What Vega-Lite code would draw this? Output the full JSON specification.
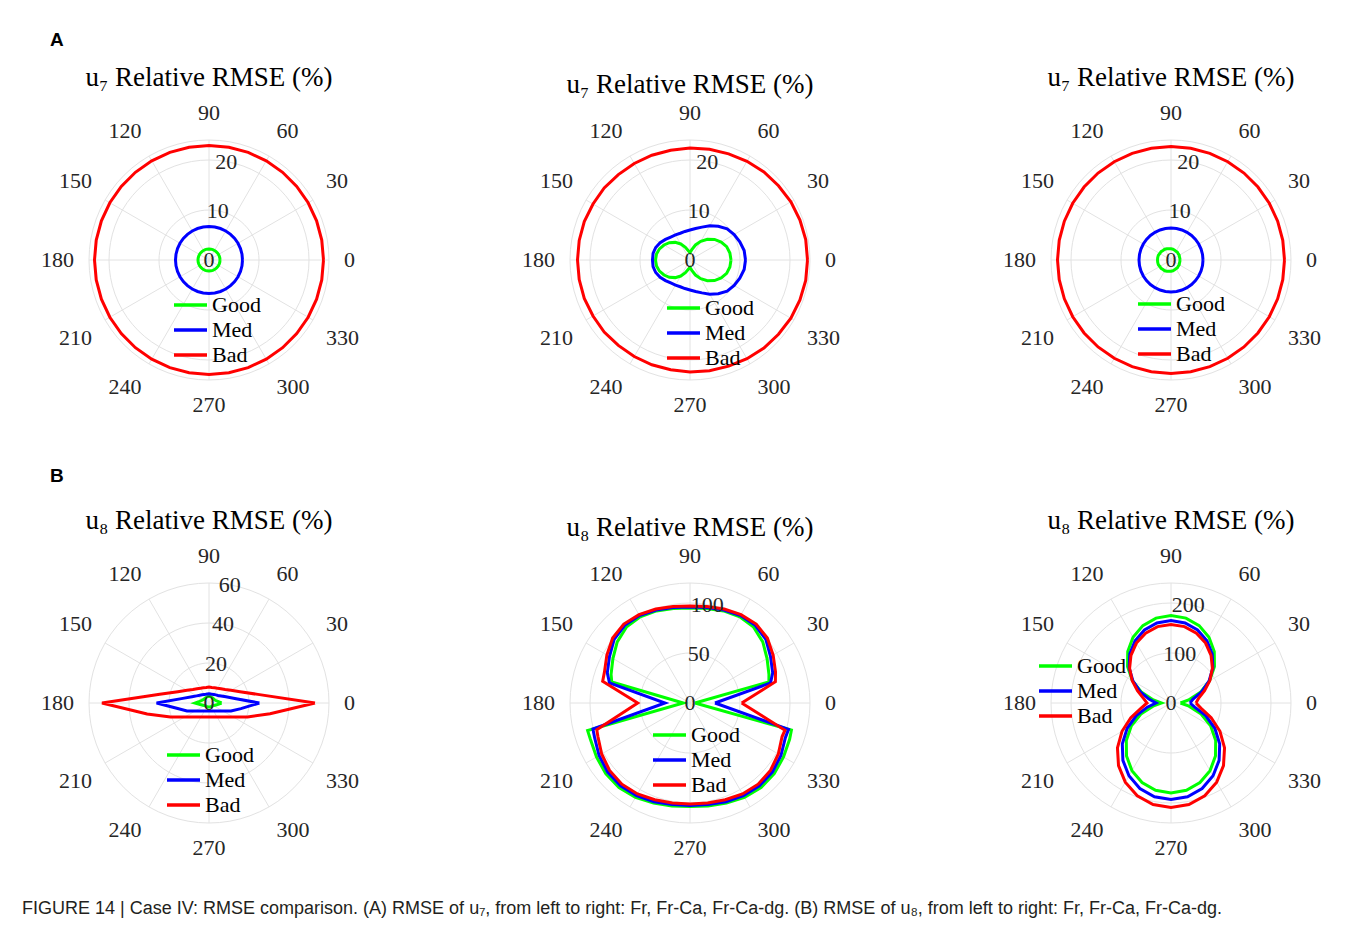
{
"$schema": "https://vega.github.io/schema/vega-lite/v6.json",
"background": "white",
"padding": {"left": 22, "top": 31, "right": 5, "bottom": 5},
"bounds": "flush",
"spacing": 443,
"title": {"text": "FIGURE 14 | Case IV: RMSE comparison. (A) RMSE of u₇, from left to right: Fr, Fr-Ca, Fr-Ca-dg. (B) RMSE of u₈, from left to right: Fr, Fr-Ca, Fr-Ca-dg.", "orient": "bottom", "anchor": "start", "frame": "group", "dx": -67, "offset": 41, "font": "Liberation Sans", "fontSize": 18, "fontWeight": "normal", "color": "#231f20"},
"datasets": {
"spokes": [{"a":0},{"a":30},{"a":60},{"a":90},{"a":120},{"a":150}],
"angles": [{"a":0},{"a":30},{"a":60},{"a":90},{"a":120},{"a":150},{"a":180},{"a":210},{"a":240},{"a":270},{"a":300},{"a":330}],
"ring": [{"a":0},{"a":5},{"a":10},{"a":15},{"a":20},{"a":25},{"a":30},{"a":35},{"a":40},{"a":45},{"a":50},{"a":55},{"a":60},{"a":65},{"a":70},{"a":75},{"a":80},{"a":85},{"a":90},{"a":95},{"a":100},{"a":105},{"a":110},{"a":115},{"a":120},{"a":125},{"a":130},{"a":135},{"a":140},{"a":145},{"a":150},{"a":155},{"a":160},{"a":165},{"a":170},{"a":175},{"a":180},{"a":185},{"a":190},{"a":195},{"a":200},{"a":205},{"a":210},{"a":215},{"a":220},{"a":225},{"a":230},{"a":235},{"a":240},{"a":245},{"a":250},{"a":255},{"a":260},{"a":265},{"a":270},{"a":275},{"a":280},{"a":285},{"a":290},{"a":295},{"a":300},{"a":305},{"a":310},{"a":315},{"a":320},{"a":325},{"a":330},{"a":335},{"a":340},{"a":345},{"a":350},{"a":355},{"a":360}],
"curves": [
{"p":"A1","s":"Good","t":0,"r":2.2},{"p":"A1","s":"Good","t":10,"r":2.2},{"p":"A1","s":"Good","t":20,"r":2.2},{"p":"A1","s":"Good","t":30,"r":2.2},{"p":"A1","s":"Good","t":40,"r":2.2},{"p":"A1","s":"Good","t":50,"r":2.2},{"p":"A1","s":"Good","t":60,"r":2.2},{"p":"A1","s":"Good","t":70,"r":2.2},{"p":"A1","s":"Good","t":80,"r":2.2},{"p":"A1","s":"Good","t":90,"r":2.2},{"p":"A1","s":"Good","t":100,"r":2.2},{"p":"A1","s":"Good","t":110,"r":2.2},{"p":"A1","s":"Good","t":120,"r":2.2},{"p":"A1","s":"Good","t":130,"r":2.2},{"p":"A1","s":"Good","t":140,"r":2.2},{"p":"A1","s":"Good","t":150,"r":2.2},{"p":"A1","s":"Good","t":160,"r":2.2},{"p":"A1","s":"Good","t":170,"r":2.2},{"p":"A1","s":"Good","t":180,"r":2.2},{"p":"A1","s":"Good","t":190,"r":2.2},{"p":"A1","s":"Good","t":200,"r":2.2},{"p":"A1","s":"Good","t":210,"r":2.2},{"p":"A1","s":"Good","t":220,"r":2.2},{"p":"A1","s":"Good","t":230,"r":2.2},{"p":"A1","s":"Good","t":240,"r":2.2},{"p":"A1","s":"Good","t":250,"r":2.2},{"p":"A1","s":"Good","t":260,"r":2.2},{"p":"A1","s":"Good","t":270,"r":2.2},{"p":"A1","s":"Good","t":280,"r":2.2},{"p":"A1","s":"Good","t":290,"r":2.2},{"p":"A1","s":"Good","t":300,"r":2.2},{"p":"A1","s":"Good","t":310,"r":2.2},{"p":"A1","s":"Good","t":320,"r":2.2},{"p":"A1","s":"Good","t":330,"r":2.2},{"p":"A1","s":"Good","t":340,"r":2.2},{"p":"A1","s":"Good","t":350,"r":2.2},{"p":"A1","s":"Good","t":360,"r":2.2},
{"p":"A1","s":"Med","t":0,"r":6.7},{"p":"A1","s":"Med","t":10,"r":6.7},{"p":"A1","s":"Med","t":20,"r":6.7},{"p":"A1","s":"Med","t":30,"r":6.7},{"p":"A1","s":"Med","t":40,"r":6.7},{"p":"A1","s":"Med","t":50,"r":6.7},{"p":"A1","s":"Med","t":60,"r":6.7},{"p":"A1","s":"Med","t":70,"r":6.7},{"p":"A1","s":"Med","t":80,"r":6.7},{"p":"A1","s":"Med","t":90,"r":6.7},{"p":"A1","s":"Med","t":100,"r":6.7},{"p":"A1","s":"Med","t":110,"r":6.7},{"p":"A1","s":"Med","t":120,"r":6.7},{"p":"A1","s":"Med","t":130,"r":6.7},{"p":"A1","s":"Med","t":140,"r":6.7},{"p":"A1","s":"Med","t":150,"r":6.7},{"p":"A1","s":"Med","t":160,"r":6.7},{"p":"A1","s":"Med","t":170,"r":6.7},{"p":"A1","s":"Med","t":180,"r":6.7},{"p":"A1","s":"Med","t":190,"r":6.7},{"p":"A1","s":"Med","t":200,"r":6.7},{"p":"A1","s":"Med","t":210,"r":6.7},{"p":"A1","s":"Med","t":220,"r":6.7},{"p":"A1","s":"Med","t":230,"r":6.7},{"p":"A1","s":"Med","t":240,"r":6.7},{"p":"A1","s":"Med","t":250,"r":6.7},{"p":"A1","s":"Med","t":260,"r":6.7},{"p":"A1","s":"Med","t":270,"r":6.7},{"p":"A1","s":"Med","t":280,"r":6.7},{"p":"A1","s":"Med","t":290,"r":6.7},{"p":"A1","s":"Med","t":300,"r":6.7},{"p":"A1","s":"Med","t":310,"r":6.7},{"p":"A1","s":"Med","t":320,"r":6.7},{"p":"A1","s":"Med","t":330,"r":6.7},{"p":"A1","s":"Med","t":340,"r":6.7},{"p":"A1","s":"Med","t":350,"r":6.7},{"p":"A1","s":"Med","t":360,"r":6.7},
{"p":"A1","s":"Bad","t":0,"r":22.9},{"p":"A1","s":"Bad","t":10,"r":22.9},{"p":"A1","s":"Bad","t":20,"r":22.9},{"p":"A1","s":"Bad","t":30,"r":22.9},{"p":"A1","s":"Bad","t":40,"r":22.9},{"p":"A1","s":"Bad","t":50,"r":22.9},{"p":"A1","s":"Bad","t":60,"r":22.9},{"p":"A1","s":"Bad","t":70,"r":22.9},{"p":"A1","s":"Bad","t":80,"r":22.9},{"p":"A1","s":"Bad","t":90,"r":22.9},{"p":"A1","s":"Bad","t":100,"r":22.9},{"p":"A1","s":"Bad","t":110,"r":22.9},{"p":"A1","s":"Bad","t":120,"r":22.9},{"p":"A1","s":"Bad","t":130,"r":22.9},{"p":"A1","s":"Bad","t":140,"r":22.9},{"p":"A1","s":"Bad","t":150,"r":22.9},{"p":"A1","s":"Bad","t":160,"r":22.9},{"p":"A1","s":"Bad","t":170,"r":22.9},{"p":"A1","s":"Bad","t":180,"r":22.9},{"p":"A1","s":"Bad","t":190,"r":22.9},{"p":"A1","s":"Bad","t":200,"r":22.9},{"p":"A1","s":"Bad","t":210,"r":22.9},{"p":"A1","s":"Bad","t":220,"r":22.9},{"p":"A1","s":"Bad","t":230,"r":22.9},{"p":"A1","s":"Bad","t":240,"r":22.9},{"p":"A1","s":"Bad","t":250,"r":22.9},{"p":"A1","s":"Bad","t":260,"r":22.9},{"p":"A1","s":"Bad","t":270,"r":22.9},{"p":"A1","s":"Bad","t":280,"r":22.9},{"p":"A1","s":"Bad","t":290,"r":22.9},{"p":"A1","s":"Bad","t":300,"r":22.9},{"p":"A1","s":"Bad","t":310,"r":22.9},{"p":"A1","s":"Bad","t":320,"r":22.9},{"p":"A1","s":"Bad","t":330,"r":22.9},{"p":"A1","s":"Bad","t":340,"r":22.9},{"p":"A1","s":"Bad","t":350,"r":22.9},{"p":"A1","s":"Bad","t":360,"r":22.9},
{"p":"A2","s":"Good","t":0,"r":8.2},{"p":"A2","s":"Good","t":10,"r":8.1},{"p":"A2","s":"Good","t":20,"r":7.8},{"p":"A2","s":"Good","t":30,"r":7.2},{"p":"A2","s":"Good","t":40,"r":6.4},{"p":"A2","s":"Good","t":50,"r":5.4},{"p":"A2","s":"Good","t":60,"r":4.3},{"p":"A2","s":"Good","t":70,"r":3.2},{"p":"A2","s":"Good","t":80,"r":2.1},{"p":"A2","s":"Good","t":90,"r":1.5},{"p":"A2","s":"Good","t":100,"r":1.9},{"p":"A2","s":"Good","t":110,"r":2.7},{"p":"A2","s":"Good","t":120,"r":3.7},{"p":"A2","s":"Good","t":130,"r":4.6},{"p":"A2","s":"Good","t":140,"r":5.4},{"p":"A2","s":"Good","t":150,"r":6.0},{"p":"A2","s":"Good","t":160,"r":6.5},{"p":"A2","s":"Good","t":170,"r":6.8},{"p":"A2","s":"Good","t":180,"r":6.9},{"p":"A2","s":"Good","t":190,"r":6.8},{"p":"A2","s":"Good","t":200,"r":6.5},{"p":"A2","s":"Good","t":210,"r":6.0},{"p":"A2","s":"Good","t":220,"r":5.4},{"p":"A2","s":"Good","t":230,"r":4.6},{"p":"A2","s":"Good","t":240,"r":3.7},{"p":"A2","s":"Good","t":250,"r":2.7},{"p":"A2","s":"Good","t":260,"r":1.9},{"p":"A2","s":"Good","t":270,"r":1.5},{"p":"A2","s":"Good","t":280,"r":2.1},{"p":"A2","s":"Good","t":290,"r":3.2},{"p":"A2","s":"Good","t":300,"r":4.3},{"p":"A2","s":"Good","t":310,"r":5.4},{"p":"A2","s":"Good","t":320,"r":6.4},{"p":"A2","s":"Good","t":330,"r":7.2},{"p":"A2","s":"Good","t":340,"r":7.8},{"p":"A2","s":"Good","t":350,"r":8.1},{"p":"A2","s":"Good","t":360,"r":8.2},
{"p":"A2","s":"Med","t":0,"r":11.1},{"p":"A2","s":"Med","t":10,"r":11.0},{"p":"A2","s":"Med","t":20,"r":10.6},{"p":"A2","s":"Med","t":30,"r":10.2},{"p":"A2","s":"Med","t":40,"r":9.7},{"p":"A2","s":"Med","t":50,"r":8.8},{"p":"A2","s":"Med","t":60,"r":7.9},{"p":"A2","s":"Med","t":70,"r":7.0},{"p":"A2","s":"Med","t":80,"r":6.4},{"p":"A2","s":"Med","t":90,"r":6.0},{"p":"A2","s":"Med","t":100,"r":5.8},{"p":"A2","s":"Med","t":110,"r":5.7},{"p":"A2","s":"Med","t":120,"r":5.8},{"p":"A2","s":"Med","t":130,"r":6.0},{"p":"A2","s":"Med","t":140,"r":6.4},{"p":"A2","s":"Med","t":150,"r":6.9},{"p":"A2","s":"Med","t":160,"r":7.3},{"p":"A2","s":"Med","t":170,"r":7.5},{"p":"A2","s":"Med","t":180,"r":7.5},{"p":"A2","s":"Med","t":190,"r":7.5},{"p":"A2","s":"Med","t":200,"r":7.3},{"p":"A2","s":"Med","t":210,"r":6.9},{"p":"A2","s":"Med","t":220,"r":6.4},{"p":"A2","s":"Med","t":230,"r":6.0},{"p":"A2","s":"Med","t":240,"r":5.8},{"p":"A2","s":"Med","t":250,"r":5.7},{"p":"A2","s":"Med","t":260,"r":5.8},{"p":"A2","s":"Med","t":270,"r":6.0},{"p":"A2","s":"Med","t":280,"r":6.4},{"p":"A2","s":"Med","t":290,"r":7.0},{"p":"A2","s":"Med","t":300,"r":7.9},{"p":"A2","s":"Med","t":310,"r":8.8},{"p":"A2","s":"Med","t":320,"r":9.7},{"p":"A2","s":"Med","t":330,"r":10.2},{"p":"A2","s":"Med","t":340,"r":10.6},{"p":"A2","s":"Med","t":350,"r":11.0},{"p":"A2","s":"Med","t":360,"r":11.1},
{"p":"A2","s":"Bad","t":0,"r":23.5},{"p":"A2","s":"Bad","t":10,"r":23.5},{"p":"A2","s":"Bad","t":20,"r":23.4},{"p":"A2","s":"Bad","t":30,"r":23.3},{"p":"A2","s":"Bad","t":40,"r":23.1},{"p":"A2","s":"Bad","t":50,"r":23.0},{"p":"A2","s":"Bad","t":60,"r":22.8},{"p":"A2","s":"Bad","t":70,"r":22.6},{"p":"A2","s":"Bad","t":80,"r":22.5},{"p":"A2","s":"Bad","t":90,"r":22.4},{"p":"A2","s":"Bad","t":100,"r":22.3},{"p":"A2","s":"Bad","t":110,"r":22.3},{"p":"A2","s":"Bad","t":120,"r":22.3},{"p":"A2","s":"Bad","t":130,"r":22.3},{"p":"A2","s":"Bad","t":140,"r":22.4},{"p":"A2","s":"Bad","t":150,"r":22.4},{"p":"A2","s":"Bad","t":160,"r":22.5},{"p":"A2","s":"Bad","t":170,"r":22.5},{"p":"A2","s":"Bad","t":180,"r":22.5},{"p":"A2","s":"Bad","t":190,"r":22.5},{"p":"A2","s":"Bad","t":200,"r":22.5},{"p":"A2","s":"Bad","t":210,"r":22.4},{"p":"A2","s":"Bad","t":220,"r":22.4},{"p":"A2","s":"Bad","t":230,"r":22.3},{"p":"A2","s":"Bad","t":240,"r":22.3},{"p":"A2","s":"Bad","t":250,"r":22.3},{"p":"A2","s":"Bad","t":260,"r":22.3},{"p":"A2","s":"Bad","t":270,"r":22.4},{"p":"A2","s":"Bad","t":280,"r":22.5},{"p":"A2","s":"Bad","t":290,"r":22.6},{"p":"A2","s":"Bad","t":300,"r":22.8},{"p":"A2","s":"Bad","t":310,"r":23.0},{"p":"A2","s":"Bad","t":320,"r":23.1},{"p":"A2","s":"Bad","t":330,"r":23.3},{"p":"A2","s":"Bad","t":340,"r":23.4},{"p":"A2","s":"Bad","t":350,"r":23.5},{"p":"A2","s":"Bad","t":360,"r":23.5},
{"p":"A3","s":"Good","t":0,"r":1.8},{"p":"A3","s":"Good","t":10,"r":1.8},{"p":"A3","s":"Good","t":20,"r":1.8},{"p":"A3","s":"Good","t":30,"r":1.9},{"p":"A3","s":"Good","t":40,"r":1.9},{"p":"A3","s":"Good","t":50,"r":2.0},{"p":"A3","s":"Good","t":60,"r":2.0},{"p":"A3","s":"Good","t":70,"r":2.1},{"p":"A3","s":"Good","t":80,"r":2.2},{"p":"A3","s":"Good","t":90,"r":2.25},{"p":"A3","s":"Good","t":100,"r":2.3},{"p":"A3","s":"Good","t":110,"r":2.4},{"p":"A3","s":"Good","t":120,"r":2.5},{"p":"A3","s":"Good","t":130,"r":2.5},{"p":"A3","s":"Good","t":140,"r":2.6},{"p":"A3","s":"Good","t":150,"r":2.6},{"p":"A3","s":"Good","t":160,"r":2.7},{"p":"A3","s":"Good","t":170,"r":2.7},{"p":"A3","s":"Good","t":180,"r":2.7},{"p":"A3","s":"Good","t":190,"r":2.7},{"p":"A3","s":"Good","t":200,"r":2.7},{"p":"A3","s":"Good","t":210,"r":2.6},{"p":"A3","s":"Good","t":220,"r":2.6},{"p":"A3","s":"Good","t":230,"r":2.5},{"p":"A3","s":"Good","t":240,"r":2.5},{"p":"A3","s":"Good","t":250,"r":2.4},{"p":"A3","s":"Good","t":260,"r":2.3},{"p":"A3","s":"Good","t":270,"r":2.25},{"p":"A3","s":"Good","t":280,"r":2.2},{"p":"A3","s":"Good","t":290,"r":2.1},{"p":"A3","s":"Good","t":300,"r":2.0},{"p":"A3","s":"Good","t":310,"r":2.0},{"p":"A3","s":"Good","t":320,"r":1.9},{"p":"A3","s":"Good","t":330,"r":1.9},{"p":"A3","s":"Good","t":340,"r":1.8},{"p":"A3","s":"Good","t":350,"r":1.8},{"p":"A3","s":"Good","t":360,"r":1.8},
{"p":"A3","s":"Med","t":0,"r":6.4},{"p":"A3","s":"Med","t":10,"r":6.4},{"p":"A3","s":"Med","t":20,"r":6.4},{"p":"A3","s":"Med","t":30,"r":6.4},{"p":"A3","s":"Med","t":40,"r":6.4},{"p":"A3","s":"Med","t":50,"r":6.4},{"p":"A3","s":"Med","t":60,"r":6.4},{"p":"A3","s":"Med","t":70,"r":6.4},{"p":"A3","s":"Med","t":80,"r":6.4},{"p":"A3","s":"Med","t":90,"r":6.4},{"p":"A3","s":"Med","t":100,"r":6.4},{"p":"A3","s":"Med","t":110,"r":6.4},{"p":"A3","s":"Med","t":120,"r":6.4},{"p":"A3","s":"Med","t":130,"r":6.4},{"p":"A3","s":"Med","t":140,"r":6.4},{"p":"A3","s":"Med","t":150,"r":6.4},{"p":"A3","s":"Med","t":160,"r":6.4},{"p":"A3","s":"Med","t":170,"r":6.4},{"p":"A3","s":"Med","t":180,"r":6.4},{"p":"A3","s":"Med","t":190,"r":6.4},{"p":"A3","s":"Med","t":200,"r":6.4},{"p":"A3","s":"Med","t":210,"r":6.4},{"p":"A3","s":"Med","t":220,"r":6.4},{"p":"A3","s":"Med","t":230,"r":6.4},{"p":"A3","s":"Med","t":240,"r":6.4},{"p":"A3","s":"Med","t":250,"r":6.4},{"p":"A3","s":"Med","t":260,"r":6.4},{"p":"A3","s":"Med","t":270,"r":6.4},{"p":"A3","s":"Med","t":280,"r":6.4},{"p":"A3","s":"Med","t":290,"r":6.4},{"p":"A3","s":"Med","t":300,"r":6.4},{"p":"A3","s":"Med","t":310,"r":6.4},{"p":"A3","s":"Med","t":320,"r":6.4},{"p":"A3","s":"Med","t":330,"r":6.4},{"p":"A3","s":"Med","t":340,"r":6.4},{"p":"A3","s":"Med","t":350,"r":6.4},{"p":"A3","s":"Med","t":360,"r":6.4},
{"p":"A3","s":"Bad","t":0,"r":22.7},{"p":"A3","s":"Bad","t":10,"r":22.7},{"p":"A3","s":"Bad","t":20,"r":22.7},{"p":"A3","s":"Bad","t":30,"r":22.7},{"p":"A3","s":"Bad","t":40,"r":22.7},{"p":"A3","s":"Bad","t":50,"r":22.7},{"p":"A3","s":"Bad","t":60,"r":22.7},{"p":"A3","s":"Bad","t":70,"r":22.7},{"p":"A3","s":"Bad","t":80,"r":22.7},{"p":"A3","s":"Bad","t":90,"r":22.7},{"p":"A3","s":"Bad","t":100,"r":22.7},{"p":"A3","s":"Bad","t":110,"r":22.7},{"p":"A3","s":"Bad","t":120,"r":22.7},{"p":"A3","s":"Bad","t":130,"r":22.7},{"p":"A3","s":"Bad","t":140,"r":22.7},{"p":"A3","s":"Bad","t":150,"r":22.7},{"p":"A3","s":"Bad","t":160,"r":22.7},{"p":"A3","s":"Bad","t":170,"r":22.7},{"p":"A3","s":"Bad","t":180,"r":22.7},{"p":"A3","s":"Bad","t":190,"r":22.7},{"p":"A3","s":"Bad","t":200,"r":22.7},{"p":"A3","s":"Bad","t":210,"r":22.7},{"p":"A3","s":"Bad","t":220,"r":22.7},{"p":"A3","s":"Bad","t":230,"r":22.7},{"p":"A3","s":"Bad","t":240,"r":22.7},{"p":"A3","s":"Bad","t":250,"r":22.7},{"p":"A3","s":"Bad","t":260,"r":22.7},{"p":"A3","s":"Bad","t":270,"r":22.7},{"p":"A3","s":"Bad","t":280,"r":22.7},{"p":"A3","s":"Bad","t":290,"r":22.7},{"p":"A3","s":"Bad","t":300,"r":22.7},{"p":"A3","s":"Bad","t":310,"r":22.7},{"p":"A3","s":"Bad","t":320,"r":22.7},{"p":"A3","s":"Bad","t":330,"r":22.7},{"p":"A3","s":"Bad","t":340,"r":22.7},{"p":"A3","s":"Bad","t":350,"r":22.7},{"p":"A3","s":"Bad","t":360,"r":22.7},
{"p":"B1","s":"Good","t":0,"r":6.3},{"p":"B1","s":"Good","t":10,"r":4.5},{"p":"B1","s":"Good","t":20,"r":3.6},{"p":"B1","s":"Good","t":30,"r":3.2},{"p":"B1","s":"Good","t":40,"r":3.1},{"p":"B1","s":"Good","t":50,"r":3.1},{"p":"B1","s":"Good","t":60,"r":3.1},{"p":"B1","s":"Good","t":70,"r":3.2},{"p":"B1","s":"Good","t":80,"r":3.3},{"p":"B1","s":"Good","t":90,"r":3.3},{"p":"B1","s":"Good","t":100,"r":3.3},{"p":"B1","s":"Good","t":110,"r":3.2},{"p":"B1","s":"Good","t":120,"r":3.1},{"p":"B1","s":"Good","t":130,"r":3.1},{"p":"B1","s":"Good","t":140,"r":3.1},{"p":"B1","s":"Good","t":150,"r":3.3},{"p":"B1","s":"Good","t":160,"r":3.8},{"p":"B1","s":"Good","t":170,"r":4.8},{"p":"B1","s":"Good","t":180,"r":7.0},{"p":"B1","s":"Good","t":190,"r":4.5},{"p":"B1","s":"Good","t":200,"r":3.2},{"p":"B1","s":"Good","t":210,"r":2.6},{"p":"B1","s":"Good","t":220,"r":2.3},{"p":"B1","s":"Good","t":230,"r":2.2},{"p":"B1","s":"Good","t":240,"r":2.1},{"p":"B1","s":"Good","t":250,"r":2.0},{"p":"B1","s":"Good","t":260,"r":2.0},{"p":"B1","s":"Good","t":270,"r":2.0},{"p":"B1","s":"Good","t":280,"r":2.0},{"p":"B1","s":"Good","t":290,"r":2.0},{"p":"B1","s":"Good","t":300,"r":2.1},{"p":"B1","s":"Good","t":310,"r":2.2},{"p":"B1","s":"Good","t":320,"r":2.3},{"p":"B1","s":"Good","t":330,"r":2.6},{"p":"B1","s":"Good","t":340,"r":3.2},{"p":"B1","s":"Good","t":350,"r":4.3},{"p":"B1","s":"Good","t":360,"r":6.3},
{"p":"B1","s":"Med","t":0,"r":25.2},{"p":"B1","s":"Med","t":10,"r":13.1},{"p":"B1","s":"Med","t":20,"r":9.0},{"p":"B1","s":"Med","t":30,"r":7.0},{"p":"B1","s":"Med","t":40,"r":5.9},{"p":"B1","s":"Med","t":50,"r":5.3},{"p":"B1","s":"Med","t":60,"r":4.85},{"p":"B1","s":"Med","t":70,"r":4.6},{"p":"B1","s":"Med","t":80,"r":4.6},{"p":"B1","s":"Med","t":90,"r":4.65},{"p":"B1","s":"Med","t":100,"r":4.6},{"p":"B1","s":"Med","t":110,"r":4.65},{"p":"B1","s":"Med","t":120,"r":4.9},{"p":"B1","s":"Med","t":130,"r":5.35},{"p":"B1","s":"Med","t":140,"r":6.0},{"p":"B1","s":"Med","t":150,"r":7.1},{"p":"B1","s":"Med","t":160,"r":9.1},{"p":"B1","s":"Med","t":170,"r":13.3},{"p":"B1","s":"Med","t":180,"r":26.2},{"p":"B1","s":"Med","t":190,"r":15.9},{"p":"B1","s":"Med","t":200,"r":11.7},{"p":"B1","s":"Med","t":210,"r":8.0},{"p":"B1","s":"Med","t":220,"r":6.2},{"p":"B1","s":"Med","t":230,"r":5.2},{"p":"B1","s":"Med","t":240,"r":4.6},{"p":"B1","s":"Med","t":250,"r":4.26},{"p":"B1","s":"Med","t":260,"r":4.06},{"p":"B1","s":"Med","t":270,"r":4.0},{"p":"B1","s":"Med","t":280,"r":4.06},{"p":"B1","s":"Med","t":290,"r":4.26},{"p":"B1","s":"Med","t":300,"r":4.6},{"p":"B1","s":"Med","t":310,"r":5.2},{"p":"B1","s":"Med","t":320,"r":6.2},{"p":"B1","s":"Med","t":330,"r":8.0},{"p":"B1","s":"Med","t":340,"r":11.7},{"p":"B1","s":"Med","t":350,"r":16.2},{"p":"B1","s":"Med","t":360,"r":25.2},
{"p":"B1","s":"Bad","t":0,"r":53.0},{"p":"B1","s":"Bad","t":10,"r":24.8},{"p":"B1","s":"Bad","t":20,"r":16.5},{"p":"B1","s":"Bad","t":30,"r":12.7},{"p":"B1","s":"Bad","t":40,"r":10.5},{"p":"B1","s":"Bad","t":50,"r":9.3},{"p":"B1","s":"Bad","t":60,"r":8.5},{"p":"B1","s":"Bad","t":70,"r":8.1},{"p":"B1","s":"Bad","t":80,"r":7.9},{"p":"B1","s":"Bad","t":90,"r":8.0},{"p":"B1","s":"Bad","t":100,"r":7.9},{"p":"B1","s":"Bad","t":110,"r":8.1},{"p":"B1","s":"Bad","t":120,"r":8.5},{"p":"B1","s":"Bad","t":130,"r":9.3},{"p":"B1","s":"Bad","t":140,"r":10.5},{"p":"B1","s":"Bad","t":150,"r":12.7},{"p":"B1","s":"Bad","t":160,"r":16.6},{"p":"B1","s":"Bad","t":170,"r":25.0},{"p":"B1","s":"Bad","t":180,"r":53.5},{"p":"B1","s":"Bad","t":190,"r":31.4},{"p":"B1","s":"Bad","t":200,"r":20.5},{"p":"B1","s":"Bad","t":210,"r":14.0},{"p":"B1","s":"Bad","t":220,"r":10.9},{"p":"B1","s":"Bad","t":230,"r":9.1},{"p":"B1","s":"Bad","t":240,"r":8.1},{"p":"B1","s":"Bad","t":250,"r":7.4},{"p":"B1","s":"Bad","t":260,"r":7.1},{"p":"B1","s":"Bad","t":270,"r":7.0},{"p":"B1","s":"Bad","t":280,"r":7.1},{"p":"B1","s":"Bad","t":290,"r":7.4},{"p":"B1","s":"Bad","t":300,"r":8.1},{"p":"B1","s":"Bad","t":310,"r":9.1},{"p":"B1","s":"Bad","t":320,"r":10.9},{"p":"B1","s":"Bad","t":330,"r":14.0},{"p":"B1","s":"Bad","t":340,"r":20.5},{"p":"B1","s":"Bad","t":350,"r":31.0},{"p":"B1","s":"Bad","t":360,"r":53.0},
{"p":"B2","s":"Good","t":0,"r":5},{"p":"B2","s":"Good","t":15,"r":81.7},{"p":"B2","s":"Good","t":20,"r":84},{"p":"B2","s":"Good","t":30,"r":89},{"p":"B2","s":"Good","t":40,"r":95},{"p":"B2","s":"Good","t":50,"r":99},{"p":"B2","s":"Good","t":60,"r":99.5},{"p":"B2","s":"Good","t":70,"r":98},{"p":"B2","s":"Good","t":80,"r":96},{"p":"B2","s":"Good","t":90,"r":95},{"p":"B2","s":"Good","t":100,"r":96},{"p":"B2","s":"Good","t":110,"r":98},{"p":"B2","s":"Good","t":120,"r":99.5},{"p":"B2","s":"Good","t":130,"r":99},{"p":"B2","s":"Good","t":140,"r":95},{"p":"B2","s":"Good","t":150,"r":89},{"p":"B2","s":"Good","t":160,"r":84},{"p":"B2","s":"Good","t":165,"r":81},{"p":"B2","s":"Good","t":180,"r":6.7},{"p":"B2","s":"Good","t":195,"r":106},{"p":"B2","s":"Good","t":200,"r":106},{"p":"B2","s":"Good","t":210,"r":108},{"p":"B2","s":"Good","t":220,"r":110},{"p":"B2","s":"Good","t":230,"r":110.5},{"p":"B2","s":"Good","t":240,"r":109},{"p":"B2","s":"Good","t":250,"r":106.5},{"p":"B2","s":"Good","t":260,"r":104.5},{"p":"B2","s":"Good","t":270,"r":103.5},{"p":"B2","s":"Good","t":280,"r":104.5},{"p":"B2","s":"Good","t":290,"r":106.5},{"p":"B2","s":"Good","t":300,"r":109},{"p":"B2","s":"Good","t":310,"r":110.5},{"p":"B2","s":"Good","t":320,"r":110},{"p":"B2","s":"Good","t":330,"r":108},{"p":"B2","s":"Good","t":340,"r":106},{"p":"B2","s":"Good","t":345,"r":105},{"p":"B2","s":"Good","t":360,"r":5},
{"p":"B2","s":"Med","t":0,"r":25},{"p":"B2","s":"Med","t":14,"r":83},{"p":"B2","s":"Med","t":20,"r":88},{"p":"B2","s":"Med","t":30,"r":93},{"p":"B2","s":"Med","t":40,"r":99},{"p":"B2","s":"Med","t":50,"r":101.5},{"p":"B2","s":"Med","t":60,"r":101},{"p":"B2","s":"Med","t":70,"r":99},{"p":"B2","s":"Med","t":80,"r":97},{"p":"B2","s":"Med","t":90,"r":96},{"p":"B2","s":"Med","t":100,"r":97},{"p":"B2","s":"Med","t":110,"r":99},{"p":"B2","s":"Med","t":120,"r":101},{"p":"B2","s":"Med","t":130,"r":101.5},{"p":"B2","s":"Med","t":140,"r":99},{"p":"B2","s":"Med","t":150,"r":93},{"p":"B2","s":"Med","t":160,"r":88},{"p":"B2","s":"Med","t":166,"r":83},{"p":"B2","s":"Med","t":180,"r":25},{"p":"B2","s":"Med","t":195,"r":100.5},{"p":"B2","s":"Med","t":200,"r":101.5},{"p":"B2","s":"Med","t":210,"r":105},{"p":"B2","s":"Med","t":220,"r":107.5},{"p":"B2","s":"Med","t":230,"r":108},{"p":"B2","s":"Med","t":240,"r":107},{"p":"B2","s":"Med","t":250,"r":105},{"p":"B2","s":"Med","t":260,"r":103},{"p":"B2","s":"Med","t":270,"r":102.5},{"p":"B2","s":"Med","t":280,"r":103},{"p":"B2","s":"Med","t":290,"r":105},{"p":"B2","s":"Med","t":300,"r":107},{"p":"B2","s":"Med","t":310,"r":108},{"p":"B2","s":"Med","t":320,"r":107.5},{"p":"B2","s":"Med","t":330,"r":105},{"p":"B2","s":"Med","t":340,"r":101.5},{"p":"B2","s":"Med","t":345,"r":102},{"p":"B2","s":"Med","t":360,"r":25},
{"p":"B2","s":"Bad","t":0,"r":51.7},{"p":"B2","s":"Bad","t":14,"r":88},{"p":"B2","s":"Bad","t":20,"r":91},{"p":"B2","s":"Bad","t":30,"r":96},{"p":"B2","s":"Bad","t":40,"r":101},{"p":"B2","s":"Bad","t":50,"r":103},{"p":"B2","s":"Bad","t":60,"r":102},{"p":"B2","s":"Bad","t":70,"r":100},{"p":"B2","s":"Bad","t":80,"r":98},{"p":"B2","s":"Bad","t":90,"r":97},{"p":"B2","s":"Bad","t":100,"r":98},{"p":"B2","s":"Bad","t":110,"r":100},{"p":"B2","s":"Bad","t":120,"r":102},{"p":"B2","s":"Bad","t":130,"r":103},{"p":"B2","s":"Bad","t":140,"r":101},{"p":"B2","s":"Bad","t":150,"r":96},{"p":"B2","s":"Bad","t":160,"r":91},{"p":"B2","s":"Bad","t":166,"r":90},{"p":"B2","s":"Bad","t":180,"r":52.3},{"p":"B2","s":"Bad","t":196,"r":97},{"p":"B2","s":"Bad","t":200,"r":98},{"p":"B2","s":"Bad","t":210,"r":102},{"p":"B2","s":"Bad","t":220,"r":105},{"p":"B2","s":"Bad","t":230,"r":106},{"p":"B2","s":"Bad","t":240,"r":105},{"p":"B2","s":"Bad","t":250,"r":103},{"p":"B2","s":"Bad","t":260,"r":101.5},{"p":"B2","s":"Bad","t":270,"r":101},{"p":"B2","s":"Bad","t":280,"r":101.5},{"p":"B2","s":"Bad","t":290,"r":103},{"p":"B2","s":"Bad","t":300,"r":105},{"p":"B2","s":"Bad","t":310,"r":106},{"p":"B2","s":"Bad","t":320,"r":105},{"p":"B2","s":"Bad","t":330,"r":102},{"p":"B2","s":"Bad","t":340,"r":98},{"p":"B2","s":"Bad","t":344,"r":98.8},{"p":"B2","s":"Bad","t":360,"r":51.7},
{"p":"B3","s":"Good","t":0,"r":19},{"p":"B3","s":"Good","t":10,"r":35.8},{"p":"B3","s":"Good","t":20,"r":62.5},{"p":"B3","s":"Good","t":30,"r":89.1},{"p":"B3","s":"Good","t":40,"r":113.5},{"p":"B3","s":"Good","t":50,"r":134.6},{"p":"B3","s":"Good","t":60,"r":151.9},{"p":"B3","s":"Good","t":70,"r":164.7},{"p":"B3","s":"Good","t":80,"r":172.4},{"p":"B3","s":"Good","t":90,"r":175},{"p":"B3","s":"Good","t":100,"r":172.4},{"p":"B3","s":"Good","t":110,"r":164.7},{"p":"B3","s":"Good","t":120,"r":151.9},{"p":"B3","s":"Good","t":130,"r":134.6},{"p":"B3","s":"Good","t":140,"r":113.5},{"p":"B3","s":"Good","t":150,"r":89.1},{"p":"B3","s":"Good","t":160,"r":62.5},{"p":"B3","s":"Good","t":170,"r":35.8},{"p":"B3","s":"Good","t":180,"r":19},{"p":"B3","s":"Good","t":190,"r":36.5},{"p":"B3","s":"Good","t":200,"r":64.1},{"p":"B3","s":"Good","t":210,"r":91.5},{"p":"B3","s":"Good","t":220,"r":116.7},{"p":"B3","s":"Good","t":230,"r":138.4},{"p":"B3","s":"Good","t":240,"r":156.2},{"p":"B3","s":"Good","t":250,"r":169.3},{"p":"B3","s":"Good","t":260,"r":177.3},{"p":"B3","s":"Good","t":270,"r":180},{"p":"B3","s":"Good","t":280,"r":177.3},{"p":"B3","s":"Good","t":290,"r":169.3},{"p":"B3","s":"Good","t":300,"r":156.2},{"p":"B3","s":"Good","t":310,"r":138.4},{"p":"B3","s":"Good","t":320,"r":116.7},{"p":"B3","s":"Good","t":330,"r":91.5},{"p":"B3","s":"Good","t":340,"r":64.1},{"p":"B3","s":"Good","t":350,"r":36.5},{"p":"B3","s":"Good","t":360,"r":19},
{"p":"B3","s":"Med","t":0,"r":38},{"p":"B3","s":"Med","t":10,"r":44.8},{"p":"B3","s":"Med","t":20,"r":65.3},{"p":"B3","s":"Med","t":30,"r":87.8},{"p":"B3","s":"Med","t":40,"r":109.3},{"p":"B3","s":"Med","t":50,"r":128.2},{"p":"B3","s":"Med","t":60,"r":143.7},{"p":"B3","s":"Med","t":70,"r":155.3},{"p":"B3","s":"Med","t":80,"r":162.4},{"p":"B3","s":"Med","t":90,"r":164.8},{"p":"B3","s":"Med","t":100,"r":162.4},{"p":"B3","s":"Med","t":110,"r":155.3},{"p":"B3","s":"Med","t":120,"r":143.7},{"p":"B3","s":"Med","t":130,"r":128.2},{"p":"B3","s":"Med","t":140,"r":109.3},{"p":"B3","s":"Med","t":150,"r":87.8},{"p":"B3","s":"Med","t":160,"r":65.3},{"p":"B3","s":"Med","t":170,"r":44.8},{"p":"B3","s":"Med","t":180,"r":30},{"p":"B3","s":"Med","t":190,"r":48.2},{"p":"B3","s":"Med","t":200,"r":73.8},{"p":"B3","s":"Med","t":210,"r":101.2},{"p":"B3","s":"Med","t":220,"r":127.1},{"p":"B3","s":"Med","t":230,"r":149.7},{"p":"B3","s":"Med","t":240,"r":168.2},{"p":"B3","s":"Med","t":250,"r":182},{"p":"B3","s":"Med","t":260,"r":190.4},{"p":"B3","s":"Med","t":270,"r":193.2},{"p":"B3","s":"Med","t":280,"r":190.4},{"p":"B3","s":"Med","t":290,"r":182},{"p":"B3","s":"Med","t":300,"r":168.2},{"p":"B3","s":"Med","t":310,"r":149.7},{"p":"B3","s":"Med","t":320,"r":127.1},{"p":"B3","s":"Med","t":330,"r":101.2},{"p":"B3","s":"Med","t":340,"r":73.8},{"p":"B3","s":"Med","t":350,"r":48.2},{"p":"B3","s":"Med","t":360,"r":38},
{"p":"B3","s":"Bad","t":0,"r":50},{"p":"B3","s":"Bad","t":10,"r":56.3},{"p":"B3","s":"Bad","t":20,"r":71.4},{"p":"B3","s":"Bad","t":30,"r":89.7},{"p":"B3","s":"Bad","t":40,"r":108.1},{"p":"B3","s":"Bad","t":50,"r":124.6},{"p":"B3","s":"Bad","t":60,"r":138.4},{"p":"B3","s":"Bad","t":70,"r":148.7},{"p":"B3","s":"Bad","t":80,"r":155.1},{"p":"B3","s":"Bad","t":90,"r":157.2},{"p":"B3","s":"Bad","t":100,"r":155.1},{"p":"B3","s":"Bad","t":110,"r":148.7},{"p":"B3","s":"Bad","t":120,"r":138.4},{"p":"B3","s":"Bad","t":130,"r":124.6},{"p":"B3","s":"Bad","t":140,"r":108.1},{"p":"B3","s":"Bad","t":150,"r":89.7},{"p":"B3","s":"Bad","t":160,"r":71.4},{"p":"B3","s":"Bad","t":170,"r":56.3},{"p":"B3","s":"Bad","t":180,"r":48},{"p":"B3","s":"Bad","t":190,"r":61.2},{"p":"B3","s":"Bad","t":200,"r":85.5},{"p":"B3","s":"Bad","t":210,"r":113.1},{"p":"B3","s":"Bad","t":220,"r":139.8},{"p":"B3","s":"Bad","t":230,"r":163.3},{"p":"B3","s":"Bad","t":240,"r":182.8},{"p":"B3","s":"Bad","t":250,"r":197.3},{"p":"B3","s":"Bad","t":260,"r":206.2},{"p":"B3","s":"Bad","t":270,"r":209.1},{"p":"B3","s":"Bad","t":280,"r":206.2},{"p":"B3","s":"Bad","t":290,"r":197.3},{"p":"B3","s":"Bad","t":300,"r":182.8},{"p":"B3","s":"Bad","t":310,"r":163.3},{"p":"B3","s":"Bad","t":320,"r":139.8},{"p":"B3","s":"Bad","t":330,"r":113.1},{"p":"B3","s":"Bad","t":340,"r":85.5},{"p":"B3","s":"Bad","t":350,"r":61.2},{"p":"B3","s":"Bad","t":360,"r":50}
]
},
"vconcat": [
{
"title": {"text": "A", "anchor": "start", "frame": "group", "dx": -39, "font": "Liberation Sans", "fontSize": 19, "fontWeight": "bold", "color": "#000", "offset": 14},
"bounds": "flush",
"spacing": 241,
"resolve": {"scale": {"color": "independent"}, "legend": {"color": "independent"}},
"hconcat": [
{
"width": 240, "height": 240,
"title": {"text": "u₇ Relative RMSE (%)"},
"layer": [
{"data": {"name": "ring"}, "transform": [{"calculate": "10", "as": "r1"}, {"calculate": "20", "as": "r2"}, {"calculate": "24", "as": "r3"}, {"fold": ["r1", "r2", "r3"], "as": ["k", "rr"]}, {"calculate": "datum.rr*cos(datum.a*PI/180)", "as": "x"}, {"calculate": "datum.rr*sin(datum.a*PI/180)", "as": "y"}], "mark": {"type": "line", "stroke": "#e2e2e2", "strokeWidth": 1}, "encoding": {"x": {"field": "x", "type": "quantitative", "scale": {"domain": [-24, 24], "nice": false, "zero": false}, "axis": null}, "y": {"field": "y", "type": "quantitative", "scale": {"domain": [-24, 24], "nice": false, "zero": false}, "axis": null}, "detail": {"field": "k"}, "order": {"field": "a", "type": "quantitative"}}},
{"data": {"name": "spokes"}, "transform": [{"calculate": "24*cos(datum.a*PI/180)", "as": "x"}, {"calculate": "24*sin(datum.a*PI/180)", "as": "y"}, {"calculate": "-datum.x", "as": "x2"}, {"calculate": "-datum.y", "as": "y2"}], "mark": {"type": "rule", "stroke": "#e2e2e2", "strokeWidth": 1}, "encoding": {"x": {"field": "x", "type": "quantitative"}, "y": {"field": "y", "type": "quantitative"}, "x2": {"field": "x2"}, "y2": {"field": "y2"}}},
{"data": {"name": "angles"}, "transform": [{"calculate": "cos(datum.a*PI/180)", "as": "c"}, {"calculate": "sin(datum.a*PI/180)", "as": "s"}, {"calculate": "24*1.125*datum.c", "as": "x"}, {"calculate": "24*1.125*datum.s", "as": "y"}], "mark": {"type": "text", "font": "Liberation Serif", "fontSize": 22, "color": "#262626", "align": {"expr": "datum.c > 0.1 ? 'left' : datum.c < -0.1 ? 'right' : 'center'"}, "baseline": {"expr": "datum.s > 0.1 ? 'bottom' : datum.s < -0.1 ? 'top' : 'middle'"}}, "encoding": {"x": {"field": "x", "type": "quantitative"}, "y": {"field": "y", "type": "quantitative"}, "text": {"field": "a", "type": "nominal"}}},
{"data": {"name": "curves"}, "transform": [{"filter": "datum.p == 'A1'"}, {"calculate": "datum.r*cos(datum.t*PI/180)", "as": "x"}, {"calculate": "datum.r*sin(datum.t*PI/180)", "as": "y"}], "mark": {"type": "line", "strokeWidth": 3}, "encoding": {"x": {"field": "x", "type": "quantitative"}, "y": {"field": "y", "type": "quantitative"}, "order": {"field": "t", "type": "quantitative"}, "color": {"field": "s", "type": "nominal", "scale": {"domain": ["Good", "Med", "Bad"], "range": ["#00ff00", "#0000ff", "#ff0000"]}, "legend": {"orient": "none", "legendX": 83, "legendY": 154}}}},
{"data": {"values": [{"v": 0}, {"v": 10}, {"v": 20}]}, "transform": [{"calculate": "datum.v*cos(80*PI/180)", "as": "x"}, {"calculate": "datum.v*sin(80*PI/180)", "as": "y"}], "mark": {"type": "text", "font": "Liberation Serif", "fontSize": 22, "color": "#262626"}, "encoding": {"x": {"field": "x", "type": "quantitative"}, "y": {"field": "y", "type": "quantitative"}, "text": {"field": "v", "type": "nominal"}}}
]
},
{
"width": 240, "height": 240,
"title": {"text": "u₇ Relative RMSE (%)", "offset": 3},
"layer": [
{"data": {"name": "ring"}, "transform": [{"calculate": "10", "as": "r1"}, {"calculate": "20", "as": "r2"}, {"calculate": "24", "as": "r3"}, {"fold": ["r1", "r2", "r3"], "as": ["k", "rr"]}, {"calculate": "datum.rr*cos(datum.a*PI/180)", "as": "x"}, {"calculate": "datum.rr*sin(datum.a*PI/180)", "as": "y"}], "mark": {"type": "line", "stroke": "#e2e2e2", "strokeWidth": 1}, "encoding": {"x": {"field": "x", "type": "quantitative", "scale": {"domain": [-24, 24], "nice": false, "zero": false}, "axis": null}, "y": {"field": "y", "type": "quantitative", "scale": {"domain": [-24, 24], "nice": false, "zero": false}, "axis": null}, "detail": {"field": "k"}, "order": {"field": "a", "type": "quantitative"}}},
{"data": {"name": "spokes"}, "transform": [{"calculate": "24*cos(datum.a*PI/180)", "as": "x"}, {"calculate": "24*sin(datum.a*PI/180)", "as": "y"}, {"calculate": "-datum.x", "as": "x2"}, {"calculate": "-datum.y", "as": "y2"}], "mark": {"type": "rule", "stroke": "#e2e2e2", "strokeWidth": 1}, "encoding": {"x": {"field": "x", "type": "quantitative"}, "y": {"field": "y", "type": "quantitative"}, "x2": {"field": "x2"}, "y2": {"field": "y2"}}},
{"data": {"name": "angles"}, "transform": [{"calculate": "cos(datum.a*PI/180)", "as": "c"}, {"calculate": "sin(datum.a*PI/180)", "as": "s"}, {"calculate": "24*1.125*datum.c", "as": "x"}, {"calculate": "24*1.125*datum.s", "as": "y"}], "mark": {"type": "text", "font": "Liberation Serif", "fontSize": 22, "color": "#262626", "align": {"expr": "datum.c > 0.1 ? 'left' : datum.c < -0.1 ? 'right' : 'center'"}, "baseline": {"expr": "datum.s > 0.1 ? 'bottom' : datum.s < -0.1 ? 'top' : 'middle'"}}, "encoding": {"x": {"field": "x", "type": "quantitative"}, "y": {"field": "y", "type": "quantitative"}, "text": {"field": "a", "type": "nominal"}}},
{"data": {"name": "curves"}, "transform": [{"filter": "datum.p == 'A2'"}, {"calculate": "datum.r*cos(datum.t*PI/180)", "as": "x"}, {"calculate": "datum.r*sin(datum.t*PI/180)", "as": "y"}], "mark": {"type": "line", "strokeWidth": 3}, "encoding": {"x": {"field": "x", "type": "quantitative"}, "y": {"field": "y", "type": "quantitative"}, "order": {"field": "t", "type": "quantitative"}, "color": {"field": "s", "type": "nominal", "scale": {"domain": ["Good", "Med", "Bad"], "range": ["#00ff00", "#0000ff", "#ff0000"]}, "legend": {"orient": "none", "legendX": 95, "legendY": 157}}}},
{"data": {"values": [{"v": 0}, {"v": 10}, {"v": 20}]}, "transform": [{"calculate": "datum.v*cos(80*PI/180)", "as": "x"}, {"calculate": "datum.v*sin(80*PI/180)", "as": "y"}], "mark": {"type": "text", "font": "Liberation Serif", "fontSize": 22, "color": "#262626"}, "encoding": {"x": {"field": "x", "type": "quantitative"}, "y": {"field": "y", "type": "quantitative"}, "text": {"field": "v", "type": "nominal"}}}
]
},
{
"width": 240, "height": 240,
"title": {"text": "u₇ Relative RMSE (%)"},
"layer": [
{"data": {"name": "ring"}, "transform": [{"calculate": "10", "as": "r1"}, {"calculate": "20", "as": "r2"}, {"calculate": "24", "as": "r3"}, {"fold": ["r1", "r2", "r3"], "as": ["k", "rr"]}, {"calculate": "datum.rr*cos(datum.a*PI/180)", "as": "x"}, {"calculate": "datum.rr*sin(datum.a*PI/180)", "as": "y"}], "mark": {"type": "line", "stroke": "#e2e2e2", "strokeWidth": 1}, "encoding": {"x": {"field": "x", "type": "quantitative", "scale": {"domain": [-24, 24], "nice": false, "zero": false}, "axis": null}, "y": {"field": "y", "type": "quantitative", "scale": {"domain": [-24, 24], "nice": false, "zero": false}, "axis": null}, "detail": {"field": "k"}, "order": {"field": "a", "type": "quantitative"}}},
{"data": {"name": "spokes"}, "transform": [{"calculate": "24*cos(datum.a*PI/180)", "as": "x"}, {"calculate": "24*sin(datum.a*PI/180)", "as": "y"}, {"calculate": "-datum.x", "as": "x2"}, {"calculate": "-datum.y", "as": "y2"}], "mark": {"type": "rule", "stroke": "#e2e2e2", "strokeWidth": 1}, "encoding": {"x": {"field": "x", "type": "quantitative"}, "y": {"field": "y", "type": "quantitative"}, "x2": {"field": "x2"}, "y2": {"field": "y2"}}},
{"data": {"name": "angles"}, "transform": [{"calculate": "cos(datum.a*PI/180)", "as": "c"}, {"calculate": "sin(datum.a*PI/180)", "as": "s"}, {"calculate": "24*1.125*datum.c", "as": "x"}, {"calculate": "24*1.125*datum.s", "as": "y"}], "mark": {"type": "text", "font": "Liberation Serif", "fontSize": 22, "color": "#262626", "align": {"expr": "datum.c > 0.1 ? 'left' : datum.c < -0.1 ? 'right' : 'center'"}, "baseline": {"expr": "datum.s > 0.1 ? 'bottom' : datum.s < -0.1 ? 'top' : 'middle'"}}, "encoding": {"x": {"field": "x", "type": "quantitative"}, "y": {"field": "y", "type": "quantitative"}, "text": {"field": "a", "type": "nominal"}}},
{"data": {"name": "curves"}, "transform": [{"filter": "datum.p == 'A3'"}, {"calculate": "datum.r*cos(datum.t*PI/180)", "as": "x"}, {"calculate": "datum.r*sin(datum.t*PI/180)", "as": "y"}], "mark": {"type": "line", "strokeWidth": 3}, "encoding": {"x": {"field": "x", "type": "quantitative"}, "y": {"field": "y", "type": "quantitative"}, "order": {"field": "t", "type": "quantitative"}, "color": {"field": "s", "type": "nominal", "scale": {"domain": ["Good", "Med", "Bad"], "range": ["#00ff00", "#0000ff", "#ff0000"]}, "legend": {"orient": "none", "legendX": 85, "legendY": 153}}}},
{"data": {"values": [{"v": 0}, {"v": 10}, {"v": 20}]}, "transform": [{"calculate": "datum.v*cos(80*PI/180)", "as": "x"}, {"calculate": "datum.v*sin(80*PI/180)", "as": "y"}], "mark": {"type": "text", "font": "Liberation Serif", "fontSize": 22, "color": "#262626"}, "encoding": {"x": {"field": "x", "type": "quantitative"}, "y": {"field": "y", "type": "quantitative"}, "text": {"field": "v", "type": "nominal"}}}
]
}
]
},
{
"title": {"text": "B", "anchor": "start", "frame": "group", "dx": -39, "font": "Liberation Sans", "fontSize": 19, "fontWeight": "bold", "color": "#000", "offset": 21},
"bounds": "flush",
"spacing": 241,
"resolve": {"scale": {"color": "independent"}, "legend": {"color": "independent"}},
"hconcat": [
{
"width": 240, "height": 240,
"title": {"text": "u₈ Relative RMSE (%)"},
"layer": [
{"data": {"name": "ring"}, "transform": [{"calculate": "20", "as": "r1"}, {"calculate": "40", "as": "r2"}, {"calculate": "60", "as": "r3"}, {"fold": ["r1", "r2", "r3"], "as": ["k", "rr"]}, {"calculate": "datum.rr*cos(datum.a*PI/180)", "as": "x"}, {"calculate": "datum.rr*sin(datum.a*PI/180)", "as": "y"}], "mark": {"type": "line", "stroke": "#e2e2e2", "strokeWidth": 1}, "encoding": {"x": {"field": "x", "type": "quantitative", "scale": {"domain": [-60, 60], "nice": false, "zero": false}, "axis": null}, "y": {"field": "y", "type": "quantitative", "scale": {"domain": [-60, 60], "nice": false, "zero": false}, "axis": null}, "detail": {"field": "k"}, "order": {"field": "a", "type": "quantitative"}}},
{"data": {"name": "spokes"}, "transform": [{"calculate": "60*cos(datum.a*PI/180)", "as": "x"}, {"calculate": "60*sin(datum.a*PI/180)", "as": "y"}, {"calculate": "-datum.x", "as": "x2"}, {"calculate": "-datum.y", "as": "y2"}], "mark": {"type": "rule", "stroke": "#e2e2e2", "strokeWidth": 1}, "encoding": {"x": {"field": "x", "type": "quantitative"}, "y": {"field": "y", "type": "quantitative"}, "x2": {"field": "x2"}, "y2": {"field": "y2"}}},
{"data": {"name": "angles"}, "transform": [{"calculate": "cos(datum.a*PI/180)", "as": "c"}, {"calculate": "sin(datum.a*PI/180)", "as": "s"}, {"calculate": "60*1.125*datum.c", "as": "x"}, {"calculate": "60*1.125*datum.s", "as": "y"}], "mark": {"type": "text", "font": "Liberation Serif", "fontSize": 22, "color": "#262626", "align": {"expr": "datum.c > 0.1 ? 'left' : datum.c < -0.1 ? 'right' : 'center'"}, "baseline": {"expr": "datum.s > 0.1 ? 'bottom' : datum.s < -0.1 ? 'top' : 'middle'"}}, "encoding": {"x": {"field": "x", "type": "quantitative"}, "y": {"field": "y", "type": "quantitative"}, "text": {"field": "a", "type": "nominal"}}},
{"data": {"name": "curves"}, "transform": [{"filter": "datum.p == 'B1'"}, {"calculate": "datum.r*cos(datum.t*PI/180)", "as": "x"}, {"calculate": "datum.r*sin(datum.t*PI/180)", "as": "y"}], "mark": {"type": "line", "strokeWidth": 3}, "encoding": {"x": {"field": "x", "type": "quantitative"}, "y": {"field": "y", "type": "quantitative"}, "order": {"field": "t", "type": "quantitative"}, "color": {"field": "s", "type": "nominal", "scale": {"domain": ["Good", "Med", "Bad"], "range": ["#00ff00", "#0000ff", "#ff0000"]}, "legend": {"orient": "none", "legendX": 76, "legendY": 161}}}},
{"data": {"values": [{"v": 0}, {"v": 20}, {"v": 40}, {"v": 60}]}, "transform": [{"calculate": "datum.v*cos(80*PI/180)", "as": "x"}, {"calculate": "datum.v*sin(80*PI/180)", "as": "y"}], "mark": {"type": "text", "font": "Liberation Serif", "fontSize": 22, "color": "#262626"}, "encoding": {"x": {"field": "x", "type": "quantitative"}, "y": {"field": "y", "type": "quantitative"}, "text": {"field": "v", "type": "nominal"}}}
]
},
{
"width": 240, "height": 240,
"title": {"text": "u₈ Relative RMSE (%)", "offset": 3},
"layer": [
{"data": {"name": "ring"}, "transform": [{"calculate": "50", "as": "r1"}, {"calculate": "100", "as": "r2"}, {"calculate": "120", "as": "r3"}, {"fold": ["r1", "r2", "r3"], "as": ["k", "rr"]}, {"calculate": "datum.rr*cos(datum.a*PI/180)", "as": "x"}, {"calculate": "datum.rr*sin(datum.a*PI/180)", "as": "y"}], "mark": {"type": "line", "stroke": "#e2e2e2", "strokeWidth": 1}, "encoding": {"x": {"field": "x", "type": "quantitative", "scale": {"domain": [-120, 120], "nice": false, "zero": false}, "axis": null}, "y": {"field": "y", "type": "quantitative", "scale": {"domain": [-120, 120], "nice": false, "zero": false}, "axis": null}, "detail": {"field": "k"}, "order": {"field": "a", "type": "quantitative"}}},
{"data": {"name": "spokes"}, "transform": [{"calculate": "120*cos(datum.a*PI/180)", "as": "x"}, {"calculate": "120*sin(datum.a*PI/180)", "as": "y"}, {"calculate": "-datum.x", "as": "x2"}, {"calculate": "-datum.y", "as": "y2"}], "mark": {"type": "rule", "stroke": "#e2e2e2", "strokeWidth": 1}, "encoding": {"x": {"field": "x", "type": "quantitative"}, "y": {"field": "y", "type": "quantitative"}, "x2": {"field": "x2"}, "y2": {"field": "y2"}}},
{"data": {"name": "angles"}, "transform": [{"calculate": "cos(datum.a*PI/180)", "as": "c"}, {"calculate": "sin(datum.a*PI/180)", "as": "s"}, {"calculate": "120*1.125*datum.c", "as": "x"}, {"calculate": "120*1.125*datum.s", "as": "y"}], "mark": {"type": "text", "font": "Liberation Serif", "fontSize": 22, "color": "#262626", "align": {"expr": "datum.c > 0.1 ? 'left' : datum.c < -0.1 ? 'right' : 'center'"}, "baseline": {"expr": "datum.s > 0.1 ? 'bottom' : datum.s < -0.1 ? 'top' : 'middle'"}}, "encoding": {"x": {"field": "x", "type": "quantitative"}, "y": {"field": "y", "type": "quantitative"}, "text": {"field": "a", "type": "nominal"}}},
{"data": {"name": "curves"}, "transform": [{"filter": "datum.p == 'B2'"}, {"calculate": "datum.r*cos(datum.t*PI/180)", "as": "x"}, {"calculate": "datum.r*sin(datum.t*PI/180)", "as": "y"}], "mark": {"type": "line", "strokeWidth": 3}, "encoding": {"x": {"field": "x", "type": "quantitative"}, "y": {"field": "y", "type": "quantitative"}, "order": {"field": "t", "type": "quantitative"}, "color": {"field": "s", "type": "nominal", "scale": {"domain": ["Good", "Med", "Bad"], "range": ["#00ff00", "#0000ff", "#ff0000"]}, "legend": {"orient": "none", "legendX": 81, "legendY": 141}}}},
{"data": {"values": [{"v": 0}, {"v": 50}, {"v": 100}]}, "transform": [{"calculate": "datum.v*cos(80*PI/180)", "as": "x"}, {"calculate": "datum.v*sin(80*PI/180)", "as": "y"}], "mark": {"type": "text", "font": "Liberation Serif", "fontSize": 22, "color": "#262626"}, "encoding": {"x": {"field": "x", "type": "quantitative"}, "y": {"field": "y", "type": "quantitative"}, "text": {"field": "v", "type": "nominal"}}}
]
},
{
"width": 240, "height": 240,
"title": {"text": "u₈ Relative RMSE (%)"},
"layer": [
{"data": {"name": "ring"}, "transform": [{"calculate": "100", "as": "r1"}, {"calculate": "200", "as": "r2"}, {"calculate": "240", "as": "r3"}, {"fold": ["r1", "r2", "r3"], "as": ["k", "rr"]}, {"calculate": "datum.rr*cos(datum.a*PI/180)", "as": "x"}, {"calculate": "datum.rr*sin(datum.a*PI/180)", "as": "y"}], "mark": {"type": "line", "stroke": "#e2e2e2", "strokeWidth": 1}, "encoding": {"x": {"field": "x", "type": "quantitative", "scale": {"domain": [-240, 240], "nice": false, "zero": false}, "axis": null}, "y": {"field": "y", "type": "quantitative", "scale": {"domain": [-240, 240], "nice": false, "zero": false}, "axis": null}, "detail": {"field": "k"}, "order": {"field": "a", "type": "quantitative"}}},
{"data": {"name": "spokes"}, "transform": [{"calculate": "240*cos(datum.a*PI/180)", "as": "x"}, {"calculate": "240*sin(datum.a*PI/180)", "as": "y"}, {"calculate": "-datum.x", "as": "x2"}, {"calculate": "-datum.y", "as": "y2"}], "mark": {"type": "rule", "stroke": "#e2e2e2", "strokeWidth": 1}, "encoding": {"x": {"field": "x", "type": "quantitative"}, "y": {"field": "y", "type": "quantitative"}, "x2": {"field": "x2"}, "y2": {"field": "y2"}}},
{"data": {"name": "angles"}, "transform": [{"calculate": "cos(datum.a*PI/180)", "as": "c"}, {"calculate": "sin(datum.a*PI/180)", "as": "s"}, {"calculate": "240*1.125*datum.c", "as": "x"}, {"calculate": "240*1.125*datum.s", "as": "y"}], "mark": {"type": "text", "font": "Liberation Serif", "fontSize": 22, "color": "#262626", "align": {"expr": "datum.c > 0.1 ? 'left' : datum.c < -0.1 ? 'right' : 'center'"}, "baseline": {"expr": "datum.s > 0.1 ? 'bottom' : datum.s < -0.1 ? 'top' : 'middle'"}}, "encoding": {"x": {"field": "x", "type": "quantitative"}, "y": {"field": "y", "type": "quantitative"}, "text": {"field": "a", "type": "nominal"}}},
{"data": {"name": "curves"}, "transform": [{"filter": "datum.p == 'B3'"}, {"calculate": "datum.r*cos(datum.t*PI/180)", "as": "x"}, {"calculate": "datum.r*sin(datum.t*PI/180)", "as": "y"}], "mark": {"type": "line", "strokeWidth": 3}, "encoding": {"x": {"field": "x", "type": "quantitative"}, "y": {"field": "y", "type": "quantitative"}, "order": {"field": "t", "type": "quantitative"}, "color": {"field": "s", "type": "nominal", "scale": {"domain": ["Good", "Med", "Bad"], "range": ["#00ff00", "#0000ff", "#ff0000"]}, "legend": {"orient": "none", "legendX": -14, "legendY": 72}}}},
{"data": {"values": [{"v": 0}, {"v": 100}, {"v": 200}]}, "transform": [{"calculate": "datum.v*cos(80*PI/180)", "as": "x"}, {"calculate": "datum.v*sin(80*PI/180)", "as": "y"}], "mark": {"type": "text", "font": "Liberation Serif", "fontSize": 22, "color": "#262626"}, "encoding": {"x": {"field": "x", "type": "quantitative"}, "y": {"field": "y", "type": "quantitative"}, "text": {"field": "v", "type": "nominal"}}}
]
}
]
}
],
"resolve": {"scale": {"color": "independent"}, "legend": {"color": "independent"}},
"config": {
"view": {"stroke": null},
"title": {"font": "Liberation Serif", "fontSize": 27, "fontWeight": "normal", "color": "#000", "offset": 10},
"legend": {"title": null, "symbolType": "stroke", "symbolStrokeWidth": 3.5, "symbolSize": 1089, "labelFont": "Liberation Serif", "labelFontSize": 22, "labelColor": "#000", "rowPadding": 3, "clipHeight": 22, "padding": 0, "labelOffset": 3, "symbolOpacity": 1}
}
}
